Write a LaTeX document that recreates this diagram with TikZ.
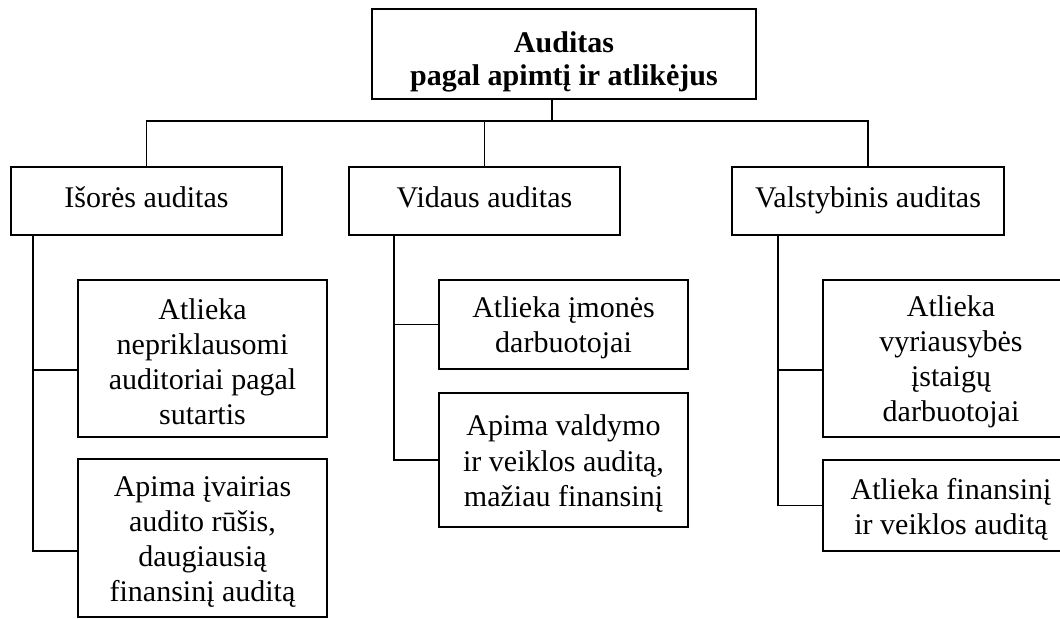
\documentclass[tikz,border=0pt]{standalone}
\usepackage{fontspec}
\setmainfont{Liberation Serif}
\usetikzlibrary{calc}

\begin{document}
\begin{tikzpicture}[x=0.75pt, y=-0.75pt,
  box/.style={draw, rectangle, line width=0.8pt, inner sep=0pt, align=center, font=\fontsize{22.5}{26.3}\selectfont},
  branch/.style={box, minimum width=203.25pt, minimum height=51pt, text height=15pt, text depth=6pt},
  leaf/.style={box, minimum width=186.75pt},
  link/.style={line width=0.8pt}
]
\useasboundingbox (0,0) rectangle (1060,618);
\node[box, minimum width=288pt, minimum height=67.5pt, font=\fontsize{22.5}{24.5}\selectfont\bfseries] (top) at (564,54) {\rule{0pt}{27pt}Auditas\\pagal apimtį ir atlikėjus};
\node[branch] (ext) at (146.5,201) {Išorės auditas};
\node[branch] (int) at (484.5,201) {Vidaus auditas};
\node[branch, minimum width=204pt] (sta) at (868,201) {Valstybinis auditas};
\node[leaf, minimum height=117.75pt] (e1) at (202.5,358.5) {\rule{0pt}{21pt}Atlieka\\nepriklausomi\\auditoriai pagal\\sutartis};
\node[leaf, minimum height=118.5pt] (e2) at (202.5,538) {\rule{0pt}{21pt}Apima įvairias\\audito rūšis,\\daugiausią\\finansinį auditą};
\node[leaf, minimum height=66.75pt] (i1) at (563.5,324.5) {\rule{0pt}{21pt}Atlieka įmonės\\darbuotojai};
\node[leaf, minimum height=100.5pt] (i2) at (563.5,460) {\rule{0pt}{21pt}Apima valdymo\\ir veiklos auditą,\\mažiau finansinį};
\node[leaf, minimum width=192pt, minimum height=117.75pt] (s1) at (951,358.5) {\rule{0pt}{21pt}Atlieka\\vyriausybės\\įstaigų\\darbuotojai};
\node[leaf, minimum width=192pt, minimum height=68.25pt] (s2) at (951,505.5) {\rule{0pt}{21pt}Atlieka finansinį\\ir veiklos auditą};
% top level
\coordinate (hub) at (552,121);
\draw[link] (top.south -| hub) -- (hub);
\draw[link] (ext.north) |- (sta.north |- hub) -- (sta.north);
\draw[link] (int.north) -- (int.north |- hub);
% trunks
\coordinate (jE1) at (33,370);
\coordinate (jE2) at (33,551);
\draw[link] (ext.south -| jE1) -- (jE2) -- (e2.west |- jE2);
\draw[link] (jE1) -- (e1.west |- jE1);
\coordinate (trI) at (394,0);
\draw[link] (int.south -| trI) |- (i2.west);
\draw[link] (i1.west -| trI) -- (i1.west);
\coordinate (jS1) at (778,370);
\draw[link] (sta.south -| jS1) |- (s2.west);
\draw[link] (jS1) -- (s1.west |- jS1);
\end{tikzpicture}
\end{document}
